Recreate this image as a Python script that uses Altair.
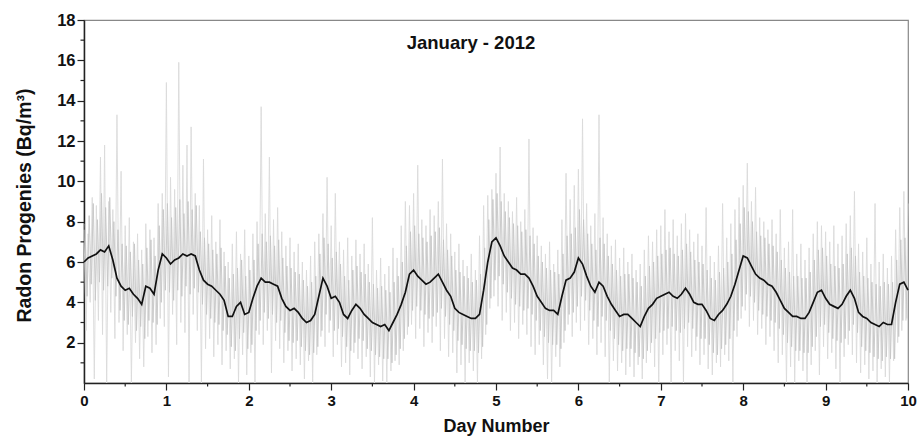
import altair as alt
import pandas as pd

# Smoothed (black) series, one value every 0.05 day from day 0 to day 10
black_vals = [
    6.0, 6.2, 6.3, 6.4, 6.6, 6.5, 6.8, 6.1, 5.2, 4.8,
    4.6, 4.7, 4.4, 4.2, 3.9, 4.8, 4.7, 4.4, 5.6, 6.4,
    6.2, 5.9, 6.1, 6.2, 6.4, 6.3, 6.4, 6.3, 5.6, 5.1,
    4.9, 4.8, 4.6, 4.4, 4.1, 3.3, 3.3, 3.8, 4.0, 3.4,
    3.5, 4.2, 4.8, 5.2, 5.0, 5.0, 4.9, 4.8, 4.2, 3.8,
    3.6, 3.7, 3.5, 3.2, 3.0, 3.1, 3.4, 4.3, 5.2, 4.8,
    4.2, 4.3, 4.0, 3.4, 3.2, 3.6, 3.9, 3.7, 3.4, 3.2,
    3.0, 2.9, 2.8, 2.9, 2.6, 3.0, 3.4, 3.9, 4.5, 5.4,
    5.6, 5.3, 5.1, 4.9, 5.0, 5.2, 5.4, 5.0, 4.6, 4.3,
    3.7, 3.5, 3.4, 3.3, 3.2, 3.2, 3.4, 4.6, 6.0, 7.0,
    7.2, 6.8, 6.3, 6.0, 5.7, 5.6, 5.4, 5.4, 5.2, 4.8,
    4.3, 4.0, 3.7, 3.6, 3.6, 3.4, 4.3, 5.1, 5.2, 5.5,
    6.2, 5.9, 5.3, 4.8, 4.5, 5.0, 4.8, 4.3, 3.9, 3.6,
    3.3, 3.4, 3.4, 3.2, 3.0, 2.8, 3.3, 3.7, 3.9, 4.2,
    4.3, 4.4, 4.5, 4.3, 4.2, 4.4, 4.7, 4.4, 4.0, 3.9,
    3.9, 3.6, 3.2, 3.1, 3.4, 3.6, 3.9, 4.3, 4.9, 5.6,
    6.3, 6.2, 5.8, 5.4, 5.2, 5.1, 4.9, 4.8, 4.5, 4.1,
    3.7, 3.5, 3.3, 3.3, 3.2, 3.2, 3.5, 4.0, 4.5, 4.6,
    4.2, 3.9, 3.8, 3.7, 3.9, 4.3, 4.6, 4.2, 3.5, 3.3,
    3.2, 3.0, 2.9, 2.8, 3.0, 2.9, 2.9, 4.0, 4.9, 5.0,
    4.6,
]

# Raw (gray) series, outer spikes: tops at each 0.05 day, bottoms 0.025 day later
gray_high = [
    7.6, 7.4, 9.2, 8.8, 11.2, 11.8, 9.0, 8.6, 13.3, 10.5,
    7.8, 8.2, 7.0, 7.4, 6.6, 7.9, 7.6, 7.2, 8.9, 9.4,
    14.9, 10.2, 9.6, 15.9, 10.8, 11.8, 12.7, 9.4, 8.8, 11.1,
    7.6, 8.3, 7.0, 8.1, 6.5, 6.0, 6.9, 7.5, 6.4, 7.6,
    6.3, 7.4, 8.0, 13.7, 8.4, 11.2, 8.1, 8.7, 7.5, 6.8,
    7.2, 6.5, 6.9, 6.0, 5.6, 6.3, 7.0, 7.4, 8.4, 10.2,
    7.8, 9.4, 7.0, 6.6, 7.2, 6.3, 7.1, 6.4, 6.9, 5.9,
    8.2, 5.6, 6.2, 5.4, 5.8, 6.7, 6.2, 7.8, 9.0, 8.8,
    9.4, 10.8, 8.1, 7.8, 8.6, 8.3, 9.0, 11.1, 7.9, 7.4,
    6.5, 6.9, 6.1, 5.8, 6.4, 5.6, 7.3, 8.8, 9.3, 9.6,
    10.4, 11.7, 9.4, 9.0, 8.5, 9.2, 8.0, 8.6, 12.1, 7.7,
    7.3, 6.8, 6.4, 7.0, 5.9, 6.6, 8.1, 10.4, 9.1, 9.8,
    10.6, 13.1, 8.9, 7.8, 8.4, 13.3, 8.2, 7.4, 6.8, 7.1,
    6.2, 6.7, 6.0, 6.4, 5.6, 5.9, 6.6, 7.3, 7.0, 7.6,
    7.8, 8.6, 7.5, 8.1, 7.3, 7.9, 8.4, 7.6, 7.0, 7.4,
    6.8, 8.7, 6.3, 6.0, 6.8, 8.9, 7.2, 7.9, 8.6, 9.2,
    9.8, 10.9, 9.0, 9.7, 8.2, 8.0, 7.6, 8.1, 7.4, 8.6,
    6.7, 7.0, 8.6, 6.4, 6.9, 6.1, 6.7, 7.4, 8.0, 7.8,
    7.5, 7.0, 7.8, 6.9, 7.3, 7.9, 8.3, 9.5, 6.9, 6.5,
    7.2, 5.9, 8.9, 6.0, 6.4, 5.7, 6.3, 7.6, 8.7, 9.5,
    8.9,
]
gray_low = [
    2.6, 4.0, 0.2, 3.1, 2.4, 0.0, 3.5, 2.2, 3.0, 1.6,
    2.4, 0.0, 2.0, 1.2, 0.8, 2.3, 1.5, 1.9, 3.2, 2.8,
    0.3, 3.4, 1.9, 3.0, 2.5, 0.0, 3.4, 2.6, 0.0, 1.7,
    2.2, 1.3, 1.9, 0.9, 1.6, 0.7, 1.2, 0.0, 1.4, 0.4,
    1.5, 0.0, 2.4, 1.9, 2.6, 0.5, 2.1, 1.7, 1.0, 1.6,
    0.6, 1.2, 0.9, 0.2, 1.1, 0.0, 1.4, 2.3, 1.8, 2.5,
    1.3, 1.9, 0.8, 1.0, 0.4, 1.5, 1.2, 0.7, 1.3, 0.3,
    0.0, 0.9, 0.1, 0.0, 0.6, 1.1, 0.9, 1.6, 2.4, 2.9,
    2.2, 2.7, 1.8, 2.5, 2.0, 2.8, 1.6, 2.2, 1.3, 1.5,
    0.5, 0.9, 0.0, 1.0, 0.6, 0.0, 1.2, 2.4, 3.7, 4.3,
    3.8, 3.1, 3.5, 2.6, 3.0, 2.2, 2.9, 2.4, 1.8, 1.4,
    1.9, 0.9, 0.2, 0.0, 1.3, 0.8, 2.0, 2.9, 2.3, 3.0,
    2.6, 3.1, 1.9, 2.2, 1.4, 2.0, 1.3, 0.0, 1.1, 0.6,
    1.0, 0.4, 0.8, 0.3, 0.9, 0.2, 1.0, 1.5, 0.8, 0.0,
    1.4, 1.9, 0.0, 1.6, 1.1, 0.0, 1.8, 1.3, 1.6, 0.9,
    1.4, 0.7, 0.4, 1.0, 0.8, 1.4, 1.1, 0.0, 2.3, 3.2,
    3.6, 2.8, 3.1, 2.4, 2.7, 1.9, 2.3, 1.6, 1.0, 1.4,
    0.0, 0.8, 0.0, 1.1, 0.6, 0.0, 0.9, 1.6, 0.4, 1.8,
    1.2, 1.5, 0.7, 0.0, 1.3, 1.9, 1.4, 1.0, 0.5, 0.9,
    0.2, 0.6, 0.0, 0.7, 0.3, 0.0, 1.1, 2.0, 2.6, 3.1,
]

# Raw (gray) series, dense core: tops 0.0125 day after each 0.05 day, bottoms 0.0375 day after
core_high = [
    7.9, 8.3, 8.9, 8.1, 9.4, 8.7, 9.2, 8.0, 7.6, 6.9,
    6.8, 6.5, 6.9, 6.1, 5.9, 6.7, 7.1, 6.3, 7.8, 8.6,
    8.9, 8.2, 8.7, 9.1, 8.4, 9.0, 8.6, 8.8, 7.5, 7.2,
    6.9, 6.6, 6.4, 6.7, 5.8, 5.2, 5.4, 5.7, 6.1, 5.3,
    5.6, 6.1, 6.9, 7.4, 7.0, 7.3, 6.8, 7.1, 6.2, 5.8,
    5.7, 5.5, 5.4, 5.1, 4.8, 5.0, 5.3, 6.4, 7.2, 6.9,
    6.2, 6.5, 5.9, 5.3, 5.1, 5.6, 5.8, 5.5, 5.4, 5.0,
    4.9, 4.7, 4.8, 4.6, 4.5, 5.0, 5.3, 6.0, 6.8, 7.5,
    7.8, 7.4, 7.2, 7.0, 7.3, 7.5, 7.7, 7.1, 6.6, 6.3,
    5.6, 5.5, 5.3, 5.2, 5.0, 5.1, 5.4, 6.7, 8.1, 9.1,
    9.4, 9.0, 8.5, 8.2, 7.9, 7.8, 7.5, 7.6, 7.3, 6.9,
    6.3, 6.0, 5.7, 5.6, 5.5, 5.4, 6.4, 7.3, 7.4, 7.7,
    8.6, 8.1, 7.4, 6.9, 6.6, 7.2, 6.9, 6.3, 5.9, 5.6,
    5.3, 5.4, 5.4, 5.2, 5.0, 4.8, 5.3, 5.8, 6.0, 6.3,
    6.4, 6.6, 6.7, 6.4, 6.3, 6.6, 6.9, 6.5, 6.1, 6.0,
    5.9, 5.6, 5.2, 5.1, 5.5, 5.7, 6.0, 6.4, 7.1, 7.9,
    8.7, 8.5, 8.0, 7.5, 7.3, 7.2, 6.9, 6.8, 6.5, 6.1,
    5.7, 5.5, 5.3, 5.3, 5.2, 5.2, 5.5, 6.1, 6.6, 6.7,
    6.3, 5.9, 5.8, 5.7, 5.9, 6.4, 6.7, 6.3, 5.5, 5.3,
    5.2, 5.0, 4.9, 4.8, 5.0, 4.9, 5.0, 6.1, 7.1, 7.2,
]
core_low = [
    4.3, 4.9, 4.1, 5.0, 4.6, 4.8, 5.2, 4.3, 3.6, 3.1,
    2.9, 3.3, 2.6, 2.8, 2.2, 3.1, 3.0, 2.9, 4.0, 4.6,
    4.5, 4.1, 4.6, 4.3, 4.8, 4.4, 4.7, 4.5, 3.9, 3.4,
    3.2, 3.0, 2.9, 2.6, 2.4, 1.8, 1.6, 2.2, 2.5, 1.7,
    1.9, 2.6, 3.1, 3.5, 3.2, 3.4, 3.0, 3.1, 2.5, 2.1,
    2.0, 2.1, 1.8, 1.6, 1.4, 1.5, 1.8, 2.6, 3.4, 3.1,
    2.6, 2.7, 2.3, 1.8, 1.6, 2.0, 2.2, 2.1, 1.7, 1.6,
    1.4, 1.3, 1.2, 1.2, 1.0, 1.4, 1.7, 2.2, 2.8, 3.6,
    3.8, 3.6, 3.4, 3.2, 3.3, 3.5, 3.7, 3.3, 2.9, 2.6,
    2.1, 1.9, 1.7, 1.6, 1.6, 1.5, 1.8, 2.9, 4.2, 5.1,
    5.3, 4.9, 4.5, 4.2, 3.9, 3.8, 3.6, 3.7, 3.4, 3.1,
    2.6, 2.3, 2.0, 1.9, 1.9, 1.7, 2.6, 3.4, 3.5, 3.8,
    4.3, 4.1, 3.6, 3.1, 2.8, 3.3, 3.1, 2.6, 2.2, 1.9,
    1.6, 1.7, 1.7, 1.5, 1.3, 1.2, 1.6, 2.0, 2.2, 2.5,
    2.6, 2.7, 2.8, 2.6, 2.5, 2.7, 3.0, 2.7, 2.3, 2.2,
    2.2, 1.9, 1.5, 1.4, 1.7, 1.9, 2.2, 2.6, 3.1, 3.8,
    4.4, 4.3, 4.0, 3.6, 3.4, 3.3, 3.1, 3.0, 2.7, 2.4,
    2.0, 1.8, 1.6, 1.6, 1.5, 1.5, 1.8, 2.3, 2.8, 2.9,
    2.5, 2.2, 2.1, 2.0, 2.2, 2.6, 2.9, 2.5, 1.8, 1.6,
    1.5, 1.3, 1.2, 1.1, 1.3, 1.2, 1.2, 2.3, 3.1, 3.2,
]

x_major = [0, 1, 2, 3, 4, 5, 6, 7, 8, 9, 10]
x_minor = [0.5, 1.5, 2.5, 3.5, 4.5, 5.5, 6.5, 7.5, 8.5, 9.5]
y_major = [2, 4, 6, 8, 10, 12, 14, 16, 18]
y_minor = [1, 3, 5, 7, 9, 11, 13, 15, 17]
title_text = "January - 2012"
x_title = "Day Number"
y_title = "Radon Progenies (Bq/m³)"


def zigzag(tops, bottoms, t_off, b_off):
    days, vals = [], []
    for i, h in enumerate(tops):
        days.append(round(i * 0.05 + t_off, 4))
        vals.append(h)
        if i < len(bottoms):
            days.append(round(i * 0.05 + b_off, 4))
            vals.append(bottoms[i])
    return pd.DataFrame({"day": days, "v": vals, "o": list(range(len(vals)))})


black_df = pd.DataFrame({
    "day": [round(i * 0.05, 3) for i in range(len(black_vals))],
    "v": black_vals,
})
gray_df = zigzag(gray_high, gray_low, 0.0, 0.025)
core_df = zigzag(core_high, core_low, 0.0125, 0.0375)

FONT = "Liberation Sans"
xs = alt.Scale(domain=[0, 10], nice=False, zero=False)
ys = alt.Scale(domain=[0, 18], nice=False, zero=False)

x_axis = alt.Axis(
    values=x_major, title=x_title, grid=False, tickSize=7, tickWidth=1.2,
    tickColor="#222", domainColor="#222", domainWidth=1.5,
    labelFont=FONT, labelFontSize=15, labelFontWeight="bold", labelColor="#111",
    labelPadding=3, titleFont=FONT, titleFontSize=18, titleFontWeight="bold",
    titleColor="#111", titlePadding=9, labelFlush=False)
y_axis = alt.Axis(
    values=y_major, title=y_title, grid=False, tickSize=7, tickWidth=1.2,
    tickColor="#222", domainColor="#222", domainWidth=1.5,
    labelFont=FONT, labelFontSize=16.5, labelFontWeight="bold", labelColor="#111",
    labelPadding=2, titleFont=FONT, titleFontSize=19.5, titleFontWeight="bold",
    titleColor="#111", titleX=-60, titleY=185, titleBaseline="middle",
    labelFlush=False)

gray = alt.Chart(gray_df).mark_line(color="#dadada", strokeWidth=0.9).encode(
    x=alt.X("day:Q", scale=xs, axis=x_axis),
    y=alt.Y("v:Q", scale=ys, axis=y_axis),
    order="o:Q",
)
core = alt.Chart(core_df).mark_line(color="#c6c6c6", strokeWidth=0.9).encode(
    x=alt.X("day:Q", scale=xs, axis=x_axis),
    y=alt.Y("v:Q", scale=ys, axis=y_axis),
    order="o:Q",
)
black = alt.Chart(black_df).mark_line(color="#111111", strokeWidth=1.7).encode(
    x=alt.X("day:Q", scale=xs, axis=x_axis),
    y=alt.Y("v:Q", scale=ys, axis=y_axis),
)

ymin = alt.Chart(pd.DataFrame({"v": y_minor})).mark_rule(color="#222", strokeWidth=1.2).encode(
    y=alt.Y("v:Q", scale=ys, axis=y_axis),
    x=alt.value(-3.5), x2=alt.value(0),
)
xmin = alt.Chart(pd.DataFrame({"day": x_minor})).mark_rule(color="#222", strokeWidth=1.2).encode(
    x=alt.X("day:Q", scale=xs, axis=x_axis),
    y=alt.value(363), y2=alt.value(366.5),
)

title = alt.Chart(pd.DataFrame({"t": [title_text]})).mark_text(
    font=FONT, fontSize=18.5, fontWeight="bold", color="#111", align="center", baseline="middle"
).encode(text="t:N", x=alt.value(387), y=alt.value(23))

chart = alt.layer(gray, core, black, ymin, xmin, title).properties(
    width=824, height=363,
    padding={"left": 84, "top": 20, "right": 11, "bottom": 54},
    autosize=alt.AutoSizeParams(type="none"),
).configure_view(stroke="#888", strokeWidth=1.2)

chart.save("out.html", embed_options={"renderer": "svg", "actions": False})
